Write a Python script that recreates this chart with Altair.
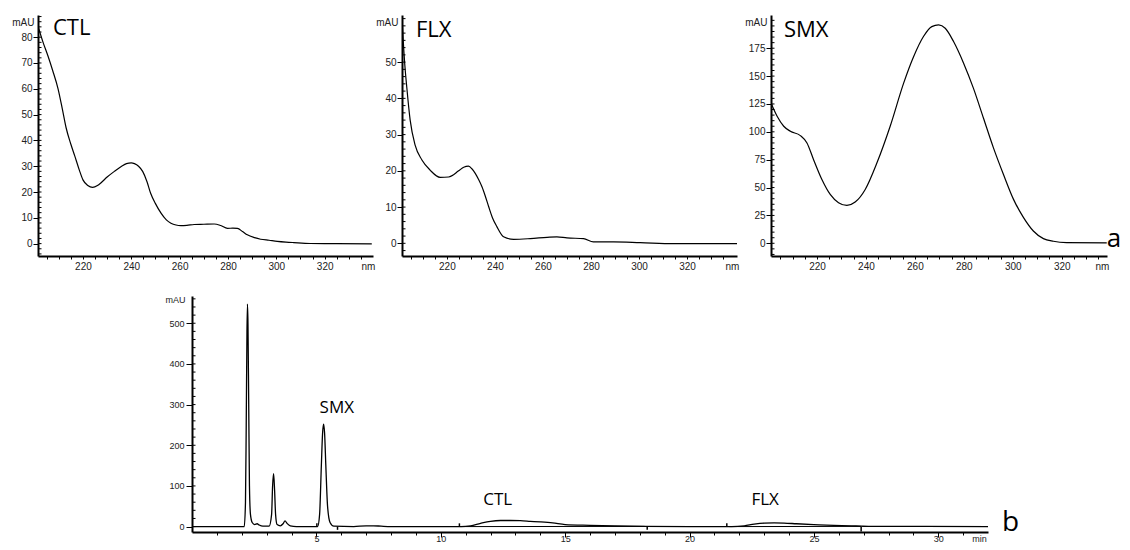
import altair as alt
import pandas as pd

# ---------------- data ----------------
ctl_nm = [201.5, 203.5, 205.6, 207.5, 209.7, 211.5, 213, 215, 216.6, 218.5,
          220, 222, 224, 226, 227.5, 230, 233, 236, 238, 240,
          241.3, 243, 244.7, 246.5, 248, 250, 252.3, 254.5, 256.4, 258.5,
          260.5, 263, 266, 270, 274.3, 277, 279.8, 282, 283.9, 286,
          288, 291, 293.5, 297, 300.4, 304, 307.2, 314, 323.7, 339.5]
ctl_mau = [84, 78, 72.5, 67, 60, 52, 45, 38.5, 34, 28.5,
           24.7, 22.5, 21.8, 22.5, 23.6, 25.8, 28, 30, 31, 31.3,
           31, 30, 28, 24, 19.5, 15.5, 11.8, 9.2, 7.9, 7.2,
           7, 7.1, 7.4, 7.5, 7.6, 7, 5.9, 6, 5.9, 4.7,
           3.4, 2.3, 1.7, 1.3, 0.9, 0.6, 0.4, 0.05, 0, -0.1]

flx_nm = [201.3, 201.8, 202.5, 203.3, 204.7, 206.8, 209.6, 213, 217.2, 220.7,
          224.9, 227, 229, 230.5, 231.8, 233.2, 234.6, 236, 237.4, 239,
          240.8, 243.6, 247.8, 254.7, 261.7, 265.8, 270, 276.9, 281, 289.4,
          300.5, 314.4, 341]
flx_mau = [62.5, 56, 49, 43, 34, 27, 23, 20.2, 18.2, 18.3,
           20, 21, 21.3, 20.5, 19.3, 17.6, 15.6, 13, 10.1, 7,
           4.6, 1.8, 1.1, 1.3, 1.65, 1.8, 1.5, 1.3, 0.4, 0.4,
           0.2, -0.1, -0.1]

smx_nm = [201.2, 203.7, 206.4, 209.1, 213.2, 215.9, 218.6, 222, 225.4, 228.8,
          232.2, 235.6, 239.7, 244.5, 249.9, 255.4, 259.5, 263.5, 266.9, 269.7,
          272.4, 275.8, 279.9, 283.9, 288, 292.1, 296.2, 300.3, 304.4, 308.4,
          312.5, 316.6, 322, 338.4]
smx_mau = [125.8, 113.9, 105, 100.5, 96.6, 90, 75, 57.2, 43.8, 36.4,
           34, 37, 48.3, 72.2, 105, 143.7, 167.6, 185.5, 194.4, 195.9,
           192.9, 181, 161.6, 139.2, 112.4, 85.6, 61.7, 39.4, 23, 11,
           4.2, 1.8, 0.6, 0.3]

chrom_min = [0.0, 1.5, 2.10, 2.15, 2.18, 2.21, 2.23, 2.25, 2.28, 2.31,
             2.35, 2.42, 2.52, 2.62, 2.70, 2.85, 3.10, 3.20, 3.24, 3.28,
             3.32, 3.36, 3.42, 3.55, 3.66, 3.74, 3.82, 3.95, 4.20, 5.05,
             5.13, 5.20, 5.25, 5.29, 5.33, 5.38, 5.45, 5.55, 5.70, 6.5,
             7.0, 7.3, 7.6, 8.0, 10.8, 11.2, 11.6, 12.0, 12.4, 12.8,
             13.2, 13.6, 14.0, 14.5, 15.0, 16.0, 17.0, 18.2, 20.0, 21.7,
             22.2, 22.6, 23.0, 23.4, 23.8, 24.3, 25.0, 25.8, 26.5, 26.9,
             27.2, 28.0, 29.5, 32.0]
chrom_mau = [0, 0, 0, 60, 250, 480, 547, 500, 300, 100,
             30, 10, 5, 7, 4, 1, 1, 30, 100, 130,
             90, 30, 5, 2, 7, 14, 8, 2, 0, 0,
             30, 150, 230, 252, 230, 150, 50, 10, 1, 0,
             2, 2, 1, 0, 0, 2, 8, 13, 15, 15,
             14.5, 13, 11.5, 9, 5, 3, 1.5, 0.5, 0, 0,
             2, 6, 8.5, 9, 8.5, 7, 5, 3, 2, 1,
             0.5, 0.5, 0.3, 0]

# integration baselines under the broad peaks
base_seg = ["CTL", "CTL", "FLX", "FLX"]
base_min = [10.8, 18.2, 21.6, 26.9]
base_mau = [0, 0.5, 0, 0.5]

# integration event markers on the chromatogram
marker_min = [5.02, 5.85, 10.75, 18.3, 21.5, 26.9]
marker_end = [8, -8, 8, -8, 8, -12]

# peak labels in the chromatogram
peak_names = ["SMX", "CTL", "FLX"]
peak_min = [5.82, 12.29, 23.04]
peak_mau = [292, 66, 66]

# panel names in the spectra
panel_names = ["CTL", "FLX", "SMX"]
panel_label_nm = [207.6, 207.1, 206.5]
panel_label_mau = [83.4, 58.9, 191]

# ---------------- styling ----------------
AX_FONT = "Liberation Sans"
TXT_FONT = "Open Sans"


def spectrum(nm, mau, xdom, ydom, ymajor, yminor, name, lab_nm, lab_mau,
             width, height, extra_right=None, corner=None):
    df = pd.DataFrame({"nm": nm, "mAU": mau})
    xs = alt.Scale(domain=xdom, nice=False, zero=False)
    ys = alt.Scale(domain=ydom, nice=False, zero=False)
    xaxis = alt.Axis(values=list(range(205, 336, 5)),
                     labelExpr="datum.value % 20 == 0 ? datum.label : ''",
                     tickSize=3, labelPadding=2, labelFontSize=10,
                     title="nm", titleAngle=0, titleX=width - 5, titleY=10,
                     titleAlign="center", titleBaseline="middle",
                     titleFontSize=10)
    yaxis = alt.Axis(values=ymajor, tickSize=5, labelPadding=1,
                     labelFontSize=10,
                     title="mAU", titleAngle=0, titleX=-4, titleY=7,
                     titleAlign="right", titleBaseline="middle",
                     titleFontSize=10)
    X = lambda f: alt.X(f, scale=xs, axis=xaxis)
    Y = lambda f: alt.Y(f, scale=ys, axis=yaxis)
    line = alt.Chart(df).mark_line(color="black", strokeWidth=1.2,
                                   interpolate="monotone", clip=True).encode(
        x=X("nm:Q"), y=Y("mAU:Q"))
    minor = alt.Chart(pd.DataFrame({"mAU": yminor})).mark_rule(
        color="black", strokeWidth=1).encode(
        y=Y("mAU:Q"), x=alt.value(0), x2=alt.value(3.5))
    lab = alt.Chart(pd.DataFrame({"nm": [lab_nm], "mAU": [lab_mau], "t": [name]})).mark_text(
        align="left", baseline="middle", font=TXT_FONT, fontSize=22, color="black").encode(
        x=X("nm:Q"), y=Y("mAU:Q"), text="t:N")
    layers = [line, minor, lab]
    if extra_right is not None:
        pad = alt.Chart(pd.DataFrame({"nm": [xdom[1]], "mAU": [ydom[0]], "t": ["w"]})).mark_text(
            align="left", baseline="middle", fontSize=9, opacity=0).encode(
            x=X("nm:Q"), y=Y("mAU:Q"), text="t:N")
        layers.append(pad)
    if corner is not None:
        c = alt.Chart(pd.DataFrame({"nm": [corner[0]], "mAU": [corner[1]], "t": [corner[2]]})).mark_text(
            align="left", baseline="alphabetic", font=TXT_FONT, fontSize=26, color="black").encode(
            x=X("nm:Q"), y=Y("mAU:Q"), text="t:N")
        layers.append(c)
    return alt.layer(*layers).properties(width=width, height=height)


p1 = spectrum(ctl_nm, ctl_mau, [201.4, 340], [-4.8, 88.6],
              list(range(0, 81, 10)), list(range(-4, 89, 2)),
              panel_names[0], panel_label_nm[0], panel_label_mau[0], 335, 241)
p2 = spectrum(flx_nm, flx_mau, [201.3, 340.8], [-3.5, 63],
              list(range(0, 51, 10)), list(range(-2, 63, 2)),
              panel_names[1], panel_label_nm[1], panel_label_mau[1], 335, 241,
              extra_right=True)
p3 = spectrum(smx_nm, smx_mau, [201.2, 338.5], [-11.4, 204.8],
              list(range(0, 176, 25)), list(range(-10, 205, 5)),
              panel_names[2], panel_label_nm[2], panel_label_mau[2], 336, 241,
              corner=(338.4, -3.6, "a"))

top = alt.hconcat(p1, p2, p3, spacing=0)

# ---------------- chromatogram ----------------
CW, CH = 796, 236
cx = alt.Scale(domain=[0, 32], nice=False, zero=False)
cy = alt.Scale(domain=[-13.3, 567], nice=False, zero=False)
cxaxis = alt.Axis(values=list(range(1, 32)),
                  labelExpr="datum.value % 5 == 0 ? datum.label : ''",
                  tickSize={"condition": {"test": "datum.value % 5 == 0", "value": 5}, "value": 3},
                  labelPadding=-3, labelFontSize=9,
                  title="min", titleAngle=0, titleX=CW - 9, titleY=6,
                  titleAlign="center", titleBaseline="middle", titleFontSize=9)
cyaxis = alt.Axis(values=list(range(0, 501, 100)), tickSize=6, labelPadding=2,
                  labelFontSize=9, title="mAU", titleAngle=0, titleX=-7, titleY=3.5,
                  titleAlign="right", titleBaseline="middle", titleFontSize=9)
CX = lambda f: alt.X(f, scale=cx, axis=cxaxis)
CY = lambda f: alt.Y(f, scale=cy, axis=cyaxis)

chrom_df = pd.DataFrame({"t": chrom_min, "mAU": chrom_mau})
chrom_line = alt.Chart(chrom_df).mark_line(color="black", strokeWidth=1.3,
                                           interpolate="monotone").encode(
    x=CX("t:Q"), y=CY("mAU:Q"))
base_line = alt.Chart(pd.DataFrame({"seg": base_seg, "t": base_min, "mAU": base_mau})).mark_line(
    color="black", strokeWidth=1).encode(
    x=CX("t:Q"), y=CY("mAU:Q"), detail="seg:N")
markers = alt.Chart(pd.DataFrame({"t": marker_min, "mAU": [0] * len(marker_min), "y1": marker_end})).mark_rule(
    color="black", strokeWidth=1.5).encode(
    x=CX("t:Q"), y=CY("mAU:Q"), y2="y1:Q")
cminor = alt.Chart(pd.DataFrame({"mAU": list(range(0, 561, 20))})).mark_rule(
    color="black", strokeWidth=1).encode(
    y=CY("mAU:Q"), x=alt.value(0), x2=alt.value(3.5))
peak_labels = alt.Chart(pd.DataFrame({"t": peak_min, "mAU": peak_mau, "n": peak_names})).mark_text(
    align="center", baseline="middle", font=TXT_FONT, fontSize=17, color="black").encode(
    x=CX("t:Q"), y=CY("mAU:Q"), text="n:N")
b_label = alt.Chart(pd.DataFrame({"t": [32.56], "mAU": [-10.6], "n": ["b"]})).mark_text(
    align="left", baseline="alphabetic", font=TXT_FONT, fontSize=28, color="black").encode(
    x=CX("t:Q"), y=CY("mAU:Q"), text="n:N")

chrom = alt.layer(chrom_line, base_line, markers, cminor, peak_labels, b_label).properties(
    width=CW, height=CH)

spacer = alt.Chart(pd.DataFrame({"x": [0]})).mark_point(opacity=0, size=1).encode(
    x=alt.value(0), y=alt.value(0)).properties(width=127, height=10)

bottom = alt.hconcat(spacer, chrom, spacing=0)

chart = alt.vconcat(top, bottom, spacing=24).properties(
    padding={"left": 3, "top": 7, "right": -2, "bottom": -1},
    background="white",
).configure_view(stroke=None).configure_axis(
    grid=False, domainColor="black", domainWidth=2, tickColor="black", tickWidth=1,
    labelFont=AX_FONT, labelColor="#222", titleFont=AX_FONT, titleColor="#222",
    titleFontWeight="normal", labelOverlap=False,
)

chart.save("out.html", embed_options={"renderer": "svg", "actions": False})
